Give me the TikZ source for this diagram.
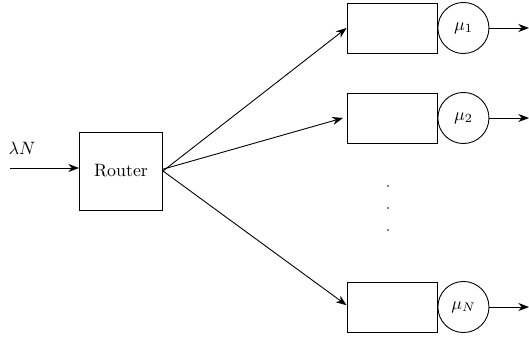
\documentclass[tikz,border=0pt]{standalone}
\usetikzlibrary{arrows.meta}
\begin{document}
\begin{tikzpicture}[x=0.56pt,y=-0.56pt,
  arr/.style={-{Stealth[length=6pt,width=4.5pt]},line width=0.5pt},
  routerbox/.style={draw,line width=0.5pt,minimum width=46.5pt,minimum height=43.7pt,inner sep=0pt},
  qbox/.style={draw,line width=0.5pt,minimum width=50.4pt,minimum height=28pt,inner sep=0pt},
  server/.style={draw,circle,line width=0.5pt,minimum size=28.6pt,inner sep=0pt},
  dot/.style={fill,circle,inner sep=0pt,minimum size=1pt}]
\useasboundingbox (0,0) rectangle (529,337);
\node[routerbox] (router) at (121,171) {Router};
\coordinate (in) at (10,168);
\node (lab) at (22,148) {$\lambda N$};
\draw[arr] (in) -- (router.west |- in);

\node[qbox] (q1) at (392,28) {};
\node[server,anchor=west] (s1) at (q1.east) {$\mu_1$};
\node[qbox] (q2) at (392,118) {};
\node[server,anchor=west] (s2) at (q2.east) {$\mu_2$};
\node[qbox] (qN) at (392,307) {};
\node[server,anchor=west] (sN) at (qN.east) {$\mu_N$};

\coordinate (o1) at (529,28);
\coordinate (o2) at (529,118);
\coordinate (oN) at (529,307);
\draw[arr] (s1.east) -- (s1.east -| o1);
\draw[arr] (s2.east) -- (s2.east -| o2);
\draw[arr] (sN.east) -- (sN.east -| oN);

\draw[arr] (router.east) -- (q1.west);
\draw[arr] ([yshift=1pt]router.east) -- ([xshift=-2pt]q2.west);
\draw[arr] (router.east) -- ([yshift=1pt]qN.west);

\node[dot] (d1) at (388,186) {};
\node[dot] (d2) at (388,208) {};
\node[dot] (d3) at (388,230) {};
\end{tikzpicture}
\end{document}
